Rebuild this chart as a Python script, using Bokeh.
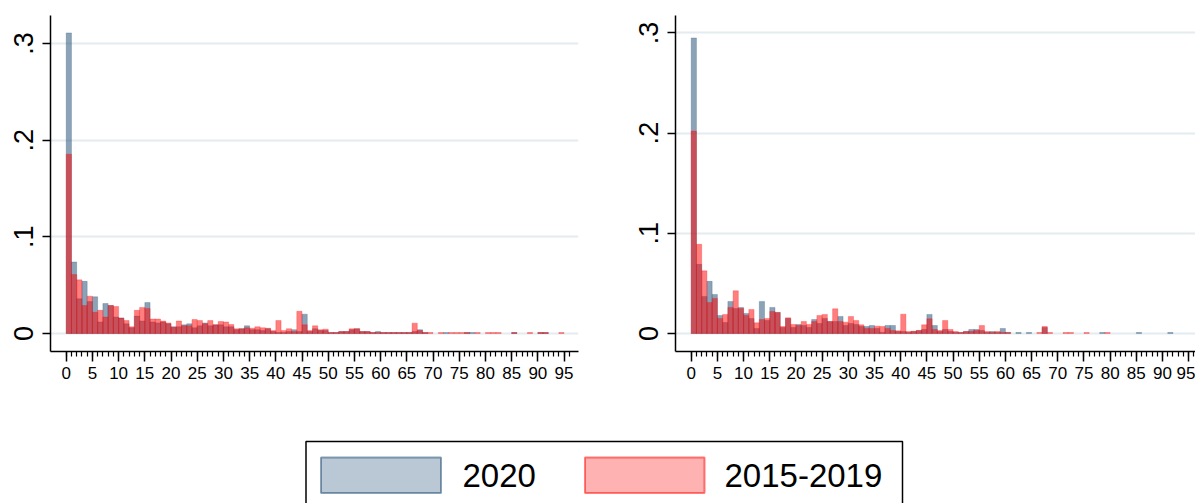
import math
from bokeh.plotting import figure
from bokeh.layouts import column, row
from bokeh.models import Range1d, FixedTicker, CustomJSTickFormatter, ColumnDataSource
from bokeh.core.properties import value
from bokeh.embed import file_html
from bokeh.resources import INLINE

# ---------------- data ----------------
bins = list(range(97))

left_2020 = [
    0.311, 0.074, 0.036, 0.054, 0.033, 0.038, 0.012, 0.031, 0.029, 0.017,
    0.016, 0.010, 0.006, 0.018, 0.013, 0.032, 0.012, 0.011, 0.012, 0.010,
    0.007, 0.007, 0.009, 0.010, 0.006, 0.008, 0.011, 0.008, 0.009, 0.009,
    0.007, 0.007, 0.004, 0.005, 0.008, 0.004, 0.004, 0.003, 0.005, 0.002,
    0.001, 0.001, 0.002, 0.004, 0.002, 0.020, 0.002, 0.005, 0.003, 0.003,
    0.001, 0.001, 0.002, 0.002, 0.004, 0.005, 0.002, 0.002, 0.001, 0.002,
    0.001, 0.001, 0.001, 0.001, 0.001, 0.001, 0.002, 0.004, 0.001, 0.0,
    0.0, 0.0, 0.001, 0.0, 0.0, 0.0, 0.001, 0.001, 0.0, 0.0,
    0.0, 0.0, 0.0, 0.0, 0.0, 0.001, 0.0, 0.0, 0.0, 0.0,
    0.001, 0.001, 0.0, 0.0, 0.0, 0.0, 0.0,
]
left_1519 = [
    0.1855, 0.061, 0.0555, 0.029, 0.0386, 0.022, 0.024, 0.017, 0.029, 0.028,
    0.016, 0.0134, 0.007, 0.024, 0.027, 0.026, 0.015, 0.015, 0.013, 0.011,
    0.0065, 0.013, 0.008, 0.008, 0.0145, 0.0134, 0.010, 0.0134, 0.009, 0.0124,
    0.012, 0.0093, 0.005, 0.005, 0.006, 0.0055, 0.007, 0.006, 0.0055, 0.003,
    0.0134, 0.003, 0.005, 0.002, 0.023, 0.009, 0.003, 0.008, 0.004, 0.0045,
    0.001, 0.001, 0.002, 0.002, 0.005, 0.005, 0.002, 0.002, 0.001, 0.001,
    0.001, 0.001, 0.001, 0.001, 0.001, 0.001, 0.0107, 0.003, 0.001, 0.001,
    0.0, 0.001, 0.0, 0.001, 0.001, 0.001, 0.001, 0.0, 0.001, 0.0,
    0.001, 0.001, 0.001, 0.0, 0.0, 0.001, 0.0, 0.0, 0.001, 0.0,
    0.001, 0.001, 0.0, 0.0, 0.001, 0.0, 0.0,
]
right_2020 = [
    0.295, 0.069, 0.037, 0.052, 0.039, 0.018, 0.011, 0.032, 0.025, 0.026,
    0.020, 0.015, 0.005, 0.032, 0.013, 0.026, 0.021, 0.006, 0.015, 0.006,
    0.009, 0.008, 0.006, 0.014, 0.010, 0.015, 0.012, 0.012, 0.017, 0.008,
    0.010, 0.009, 0.007, 0.007, 0.008, 0.005, 0.001, 0.008, 0.008, 0.002,
    0.002, 0.001, 0.002, 0.003, 0.004, 0.019, 0.008, 0.002, 0.004, 0.002,
    0.001, 0.001, 0.002, 0.004, 0.004, 0.003, 0.001, 0.002, 0.001, 0.005,
    0.001, 0.0, 0.001, 0.0, 0.001, 0.0, 0.0, 0.006, 0.0, 0.0,
    0.0, 0.0, 0.0, 0.0, 0.0, 0.0, 0.0, 0.0, 0.001, 0.0,
    0.0, 0.0, 0.0, 0.0, 0.0, 0.001, 0.0, 0.0, 0.0, 0.0,
    0.0, 0.001, 0.0, 0.0, 0.0, 0.0, 0.0,
]
right_1519 = [
    0.202, 0.089, 0.0625, 0.031, 0.035, 0.015, 0.019, 0.026, 0.0426, 0.025,
    0.018, 0.024, 0.0106, 0.014, 0.015, 0.022, 0.021, 0.007, 0.0156, 0.009,
    0.008, 0.012, 0.009, 0.012, 0.018, 0.019, 0.012, 0.0246, 0.012, 0.0113,
    0.017, 0.013, 0.0086, 0.005, 0.005, 0.0073, 0.007, 0.005, 0.003, 0.0027,
    0.0193, 0.002, 0.0023, 0.003, 0.0086, 0.0146, 0.004, 0.003, 0.013, 0.004,
    0.002, 0.001, 0.002, 0.002, 0.003, 0.008, 0.002, 0.001, 0.002, 0.001,
    0.001, 0.0, 0.0, 0.0, 0.0, 0.0, 0.001, 0.007, 0.001, 0.0,
    0.0, 0.001, 0.001, 0.0, 0.0, 0.001, 0.0, 0.0, 0.0, 0.001,
    0.0, 0.0, 0.0, 0.0, 0.0, 0.0, 0.0, 0.0, 0.0, 0.0,
    0.0, 0.0, 0.0, 0.0, 0.0, 0.0, 0.0,
]

x_ticks = list(range(0, 100, 5))
y_ticks = [0, 0.1, 0.2, 0.3]
legend_labels = ["2020", "2015-2019"]

# ---------------- styles ----------------
BLUE = "#1a476f"
RED = "#ff0000"
FONT = "Liberation Sans"
GRID = "#e3ecef"


def bars(p, vals, color):
    xs = [b for b, v in zip(bins, vals) if v > 0]
    tops = [v for v in vals if v > 0]
    src = ColumnDataSource(dict(left=xs, right=[x + 1 for x in xs], top=tops,
                                bottom=[0] * len(xs)))
    p.quad(left="left", right="right", top="top", bottom="bottom", source=src,
           fill_color=color, fill_alpha=0.5, line_color=color, line_alpha=0.35,
           line_width=0.7)


def panel(v2020, v1519, width, xmax, ymin, ymax, bl, br):
    p = figure(width=width, height=400, x_range=Range1d(-3.0, xmax),
               y_range=Range1d(ymin, ymax), output_backend="svg",
               toolbar_location=None, min_border_left=bl, min_border_right=br,
               min_border_top=15, min_border_bottom=49)
    p.outline_line_color = None
    p.background_fill_color = "white"
    p.border_fill_color = "white"

    p.xgrid.visible = False
    p.ygrid.ticker = FixedTicker(ticks=y_ticks)
    p.ygrid.grid_line_color = GRID
    p.ygrid.grid_line_width = 2

    bars(p, v2020, BLUE)
    bars(p, v1519, RED)

    xa = p.xaxis[0]
    xa.ticker = FixedTicker(ticks=x_ticks, minor_ticks=bins)
    xa.major_tick_out = 10
    xa.major_tick_in = 0
    xa.minor_tick_out = 5
    xa.minor_tick_in = 0
    xa.axis_line_width = 1.5
    xa.major_tick_line_width = 1.5
    xa.minor_tick_line_width = 1.2
    xa.major_label_text_font = FONT
    xa.major_label_text_font_size = "17px"
    xa.major_label_text_color = "black"
    xa.major_label_standoff = 5

    ya = p.yaxis[0]
    ya.ticker = FixedTicker(ticks=y_ticks, minor_ticks=[])
    ya.formatter = CustomJSTickFormatter(
        code="return tick == 0 ? '0' : '.' + Math.round(tick * 10);")
    ya.major_label_orientation = "parallel"
    ya.major_tick_out = 8
    ya.major_tick_in = 0
    ya.axis_line_width = 1.5
    ya.major_tick_line_width = 1.5
    ya.major_label_text_font = FONT
    ya.major_label_text_font_size = "27px"
    ya.major_label_text_color = "black"
    ya.major_label_standoff = 9
    return p


p1 = panel(left_2020, left_1519, 600, 97.76, -0.0186, 0.329, 50, 22)
p2 = panel(right_2020, right_1519, 595, 96.3, -0.018, 0.3174, 75, 0)

# ---------------- legend ----------------
H = 103
leg = figure(width=1195, height=H, x_range=Range1d(0, 1195),
             y_range=Range1d(0, H), output_backend="svg",
             toolbar_location=None, min_border=0)
leg.axis.visible = False
leg.grid.visible = False
leg.outline_line_color = None
leg.border_fill_color = "white"

leg.quad(left=[305.5], right=[902], top=[H - 41], bottom=[-40], fill_color=None,
         line_color="black", line_width=1.5)
leg.quad(left=[320.5], right=[440.5], top=[H - 57], bottom=[H - 92.5],
         fill_color=BLUE, fill_alpha=0.3, line_color=BLUE, line_alpha=0.5,
         line_width=2)
leg.quad(left=[584.5], right=[704], top=[H - 57], bottom=[H - 92.5],
         fill_color=RED, fill_alpha=0.3, line_color=RED, line_alpha=0.5,
         line_width=2)
leg.text(x=[462, 724], y=[H - 75, H - 75], text=legend_labels,
         text_baseline="middle", text_align="left",
         text_font=value(FONT), text_font_size="33px", text_color="black")

layout = column(row(p1, p2, spacing=0), leg, spacing=0)

open("out.html", "w").write(file_html(layout, INLINE))
